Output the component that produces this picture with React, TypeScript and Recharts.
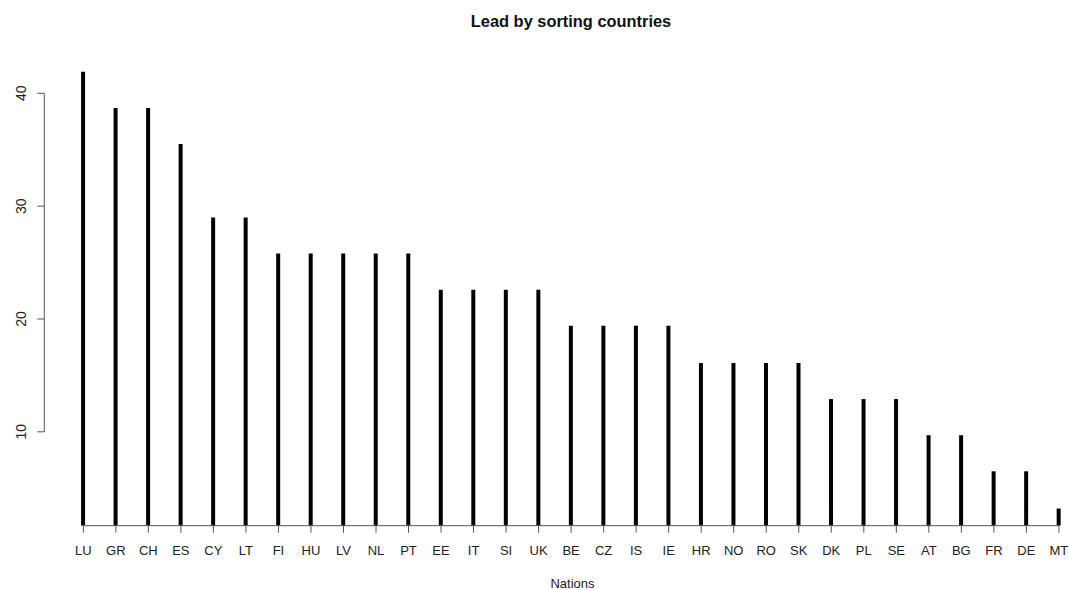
import { BarChart, Bar, XAxis, YAxis, ReferenceLine } from "recharts";

const countries = [
  "LU", "GR", "CH", "ES", "CY", "LT", "FI", "HU", "LV", "NL", "PT",
  "EE", "IT", "SI", "UK", "BE", "CZ", "IS", "IE", "HR", "NO", "RO",
  "SK", "DK", "PL", "SE", "AT", "BG", "FR", "DE", "MT",
];
const values = [
  41.9, 38.7, 38.7, 35.5, 29.0, 29.0, 25.8, 25.8, 25.8, 25.8, 25.8,
  22.6, 22.6, 22.6, 22.6, 19.4, 19.4, 19.4, 19.4, 16.1, 16.1, 16.1,
  16.1, 12.9, 12.9, 12.9, 9.7, 9.7, 6.5, 6.5, 3.2,
];
const yTicks = [10, 20, 30, 40];

const data = countries.map((c, i) => ({ idx: i + 1, name: c, value: values[i] }));
const xTicks = data.map(d => d.idx);

const Y_MIN = 1.68;
const Y_MAX = 43.49;
const FONT = "'Liberation Sans', Arial, sans-serif";

const YTick = (props: any) => {
  const { x, y, payload } = props;
  return (
    <text
      x={x}
      y={y}
      transform={`rotate(-90, ${x}, ${y})`}
      textAnchor="middle"
      fontSize={14}
      fontFamily={FONT}
      fill="#222"
    >
      {payload.value}
    </text>
  );
};

export default function App() {
  return (
    <div
      style={{
        position: "absolute",
        left: 0,
        top: 0,
        width: 1069,
        height: 590,
        overflow: "hidden",
        background: "#fff",
      }}
    >
      <BarChart
        width={1069}
        height={590}
        data={data}
        margin={{ top: 53.9, right: 0, bottom: 34.3, left: 0 }}
      >
        <XAxis
          dataKey="idx"
          type="number"
          domain={[-0.2, 31.31]}
          allowDataOverflow
          ticks={xTicks}
          tickFormatter={(v: number) => countries[v - 1] ?? ""}
          axisLine={false}
          tickSize={7}
          tickMargin={13}
          height={30}
          tickLine={{ stroke: "#555" }}
          tick={{ fontSize: 13, fontFamily: FONT, fill: "#222" }}
          interval={0}
        />
        <YAxis
          type="number"
          domain={[Y_MIN, Y_MAX]}
          allowDataOverflow
          ticks={yTicks}
          width={44.3}
          axisLine={false}
          tickSize={7}
          tickMargin={11.2}
          tickLine={{ stroke: "#555" }}
          tick={<YTick />}
        />
        <ReferenceLine
          segment={[{ x: 1, y: Y_MIN }, { x: 31, y: Y_MIN }]}
          stroke="#555"
          strokeWidth={1}
          ifOverflow="visible"
        />
        <ReferenceLine
          segment={[{ x: -0.2, y: 10 }, { x: -0.2, y: 40 }]}
          stroke="#555"
          strokeWidth={1}
          ifOverflow="visible"
        />
        <Bar dataKey="value" fill="#000" barSize={4} isAnimationActive={false} />
      </BarChart>
      <svg
        width={1069}
        height={590}
        style={{ position: "absolute", left: 0, top: 0, pointerEvents: "none" }}
      >
        <text x={571} y={26.5} textAnchor="middle" fontSize={16.4} fontWeight="bold" fontFamily={FONT} fill="#111">
          Lead by sorting countries
        </text>
        <text x={572.5} y={588} textAnchor="middle" fontSize={13} fontFamily={FONT} fill="#222">
          Nations
        </text>
      </svg>
    </div>
  );
}
